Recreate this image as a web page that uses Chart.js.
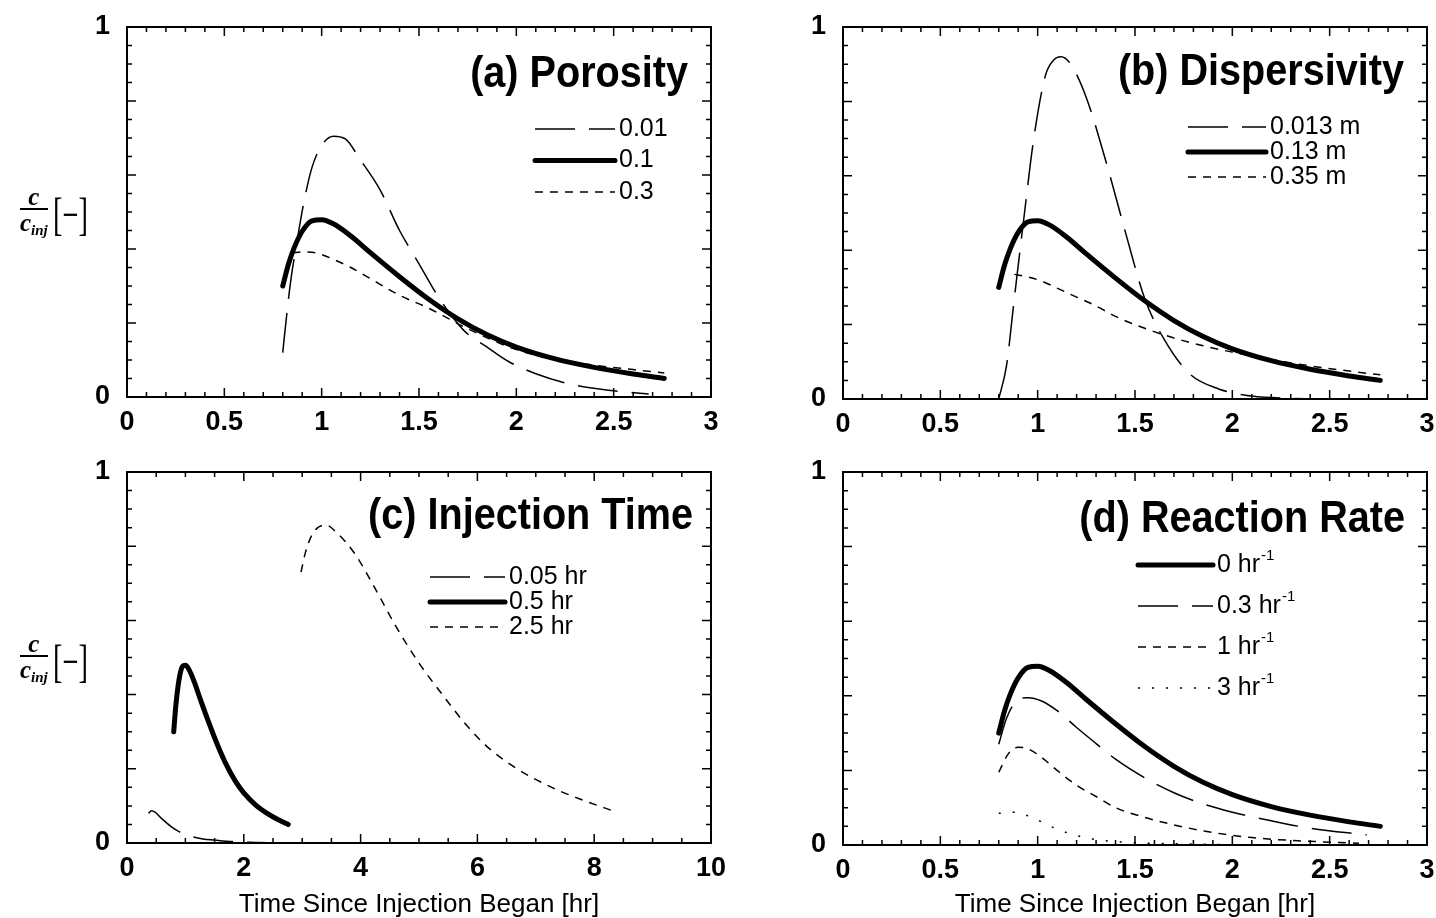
<!DOCTYPE html>
<html>
<head>
<meta charset="utf-8">
<script src="https://cdn.jsdelivr.net/npm/chart.js@4.4.0/dist/chart.umd.min.js"></script>
<style>
  body { margin:0; background:#fff; width:1436px; height:918px; overflow:hidden; position:relative; }
  canvas { position:absolute; }
  .ylab { position:absolute; left:20px; height:50px; display:flex; align-items:center; font-family:'Liberation Serif', serif; color:#000; white-space:nowrap; }
  .frac { display:inline-block; text-align:center; font-style:italic; font-weight:bold; font-size:25px; }
  .frac .num { display:block; border-bottom:2px solid #000; line-height:23px; padding:0 1px; }
  .frac .den { display:block; line-height:25px; }
  .frac sub { font-size:15px; vertical-align:-4px; }
  .br { display:inline-block; font-size:46px; transform:scaleX(0.62); transform-origin:left center; margin-left:5px; }
</style>
</head>
<body>
<canvas id="ca" width="740" height="450" style="left:0;top:0"></canvas>
<canvas id="cb" width="718" height="450" style="left:718px;top:0"></canvas>
<canvas id="cc" width="740" height="468" style="left:0;top:450px"></canvas>
<canvas id="cd" width="718" height="468" style="left:718px;top:450px"></canvas>

<div class="ylab" style="top:189px"><span class="frac"><span class="num">c</span><span class="den">c<sub>inj</sub></span></span><span class="br">[&#8722;]</span></div>
<div class="ylab" style="top:636px"><span class="frac"><span class="num">c</span><span class="den">c<sub>inj</sub></span></span><span class="br">[&#8722;]</span></div>

<script>
const FONT = "'Liberation Sans', Arial, sans-serif";

// base case (thick line) - same run in all four panels
const baseT = [0.80, 0.83, 0.86, 0.90, 0.95, 1.00, 1.06, 1.15, 1.25, 1.40, 1.55, 1.70, 1.85, 2.00, 2.20, 2.40, 2.60, 2.76];
const baseC = [0.30, 0.36, 0.405, 0.448, 0.476, 0.479, 0.468, 0.435, 0.39, 0.325, 0.264, 0.211, 0.168, 0.135, 0.103, 0.080, 0.062, 0.050];

// (a) porosity
const poro001T = [0.80, 0.82, 0.84, 0.87, 0.91, 0.95, 1.00, 1.06, 1.12, 1.20, 1.30, 1.40, 1.50, 1.60, 1.73, 1.85, 1.96, 2.10, 2.30, 2.50, 2.68];
const poro001C = [0.12, 0.22, 0.31, 0.41, 0.53, 0.62, 0.68, 0.705, 0.698, 0.64, 0.56, 0.45, 0.36, 0.27, 0.18, 0.135, 0.096, 0.063, 0.032, 0.017, 0.008];
const poro03T = [0.85, 0.90, 0.95, 1.00, 1.06, 1.15, 1.25, 1.40, 1.55, 1.73, 1.85, 2.00, 2.20, 2.40, 2.60, 2.76];
const poro03C = [0.39, 0.392, 0.391, 0.385, 0.372, 0.35, 0.32, 0.275, 0.24, 0.19, 0.16, 0.128, 0.101, 0.086, 0.074, 0.065];

// (b) dispersivity
const disp0013T = [0.80, 0.84, 0.88, 0.93, 0.98, 1.04, 1.08, 1.12, 1.17, 1.25, 1.35, 1.45, 1.55, 1.65, 1.78, 1.93, 2.10, 2.30, 2.50];
const disp0013C = [0.0, 0.09, 0.27, 0.49, 0.70, 0.87, 0.91, 0.92, 0.90, 0.81, 0.64, 0.45, 0.27, 0.16, 0.068, 0.027, 0.008, 0.002, 0.0];
const disp035T = [0.88, 0.95, 1.02, 1.10, 1.20, 1.30, 1.40, 1.55, 1.70, 1.85, 2.00, 2.20, 2.40, 2.60, 2.76];
const disp035C = [0.335, 0.328, 0.317, 0.298, 0.274, 0.25, 0.222, 0.19, 0.164, 0.143, 0.126, 0.106, 0.089, 0.075, 0.065];

// (c) injection time
const inj005T = [0.37, 0.42, 0.48, 0.60, 0.75, 0.90, 1.05, 1.30, 1.50, 1.80, 2.10, 2.40];
const inj005C = [0.08, 0.087, 0.083, 0.065, 0.045, 0.03, 0.02, 0.011, 0.008, 0.004, 0.002, 0.001];
const inj25T = [2.98, 3.05, 3.15, 3.25, 3.40, 3.60, 3.90, 4.20, 4.60, 5.00, 5.40, 5.80, 6.20, 6.70, 7.30, 7.80, 8.35];
const inj25C = [0.73, 0.78, 0.825, 0.848, 0.857, 0.835, 0.78, 0.70, 0.585, 0.485, 0.40, 0.32, 0.255, 0.198, 0.148, 0.116, 0.085];

// (d) reaction rate
const rate03T = [0.80, 0.84, 0.89, 0.95, 1.02, 1.10, 1.20, 1.30, 1.40, 1.55, 1.70, 1.85, 2.00, 2.20, 2.40, 2.69];
const rate03C = [0.27, 0.34, 0.385, 0.395, 0.386, 0.36, 0.315, 0.272, 0.23, 0.18, 0.14, 0.11, 0.088, 0.065, 0.045, 0.027];
const rate1T = [0.80, 0.85, 0.90, 0.95, 1.02, 1.10, 1.20, 1.30, 1.40, 1.55, 1.70, 1.87, 2.10, 2.35, 2.65];
const rate1C = [0.195, 0.245, 0.262, 0.258, 0.235, 0.20, 0.16, 0.13, 0.10, 0.074, 0.054, 0.036, 0.02, 0.011, 0.005];
const rate3T = [0.80, 0.88, 0.95, 1.02, 1.08, 1.18, 1.28, 1.40, 1.55, 1.75, 2.00, 2.25];
const rate3C = [0.085, 0.088, 0.078, 0.062, 0.047, 0.028, 0.016, 0.009, 0.005, 0.003, 0.001, 0.0];

// tick labels
const xTicks3 = [0, 0.5, 1, 1.5, 2, 2.5, 3];
const xTicks10 = [0, 2, 4, 6, 8, 10];
const yTicks = [0, 1];

const LONG = [40, 14], SHORT = [8, 7], DOT = [2, 12], SOLID = [];

function pts(t, c) { return t.map((x, i) => ({ x: x, y: c[i] })); }
function line(label, t, c, w, dash, sup) {
  return {
    label: label, sup: sup, data: pts(t, c),
    borderColor: '#000', borderWidth: w, borderDash: dash,
    borderCapStyle: w > 3 ? 'round' : 'butt',
    pointRadius: 0, fill: false, cubicInterpolationMode: 'monotone'
  };
}

const deco = {
  id: 'deco',
  afterDraw(chart, args, o) {
    const { ctx, chartArea: a, scales: { x, y } } = chart;
    ctx.save();
    ctx.strokeStyle = '#000';
    ctx.fillStyle = '#000';
    // inward ticks on all four sides
    ctx.lineWidth = 1.5;
    ctx.beginPath();
    const nx = Math.round((x.max - x.min) / o.xMinor);
    for (let i = 0; i <= nx; i++) {
      const px = x.getPixelForValue(x.min + i * o.xMinor);
      const len = i % o.xEvery === 0 ? 9 : 5;
      ctx.moveTo(px, a.bottom); ctx.lineTo(px, a.bottom - len);
      ctx.moveTo(px, a.top); ctx.lineTo(px, a.top + len);
    }
    const ny = Math.round((y.max - y.min) / 0.05);
    for (let i = 0; i <= ny; i++) {
      const py = y.getPixelForValue(y.min + i * 0.05);
      const len = i % 4 === 0 ? 9 : 5;
      ctx.moveTo(a.left, py); ctx.lineTo(a.left + len, py);
      ctx.moveTo(a.right, py); ctx.lineTo(a.right - len, py);
    }
    ctx.stroke();
    ctx.lineWidth = 2;
    ctx.strokeRect(a.left, a.top, a.right - a.left, a.bottom - a.top);

    // panel title (heavy, slightly condensed)
    ctx.save();
    ctx.font = 'bold 44px ' + FONT;
    ctx.textAlign = 'right';
    ctx.textBaseline = 'alphabetic';
    ctx.translate(a.right - o.titleDx, a.top + o.titleDy);
    ctx.scale(0.9, 1);
    ctx.fillText(o.title, 0, 0);
    ctx.restore();

    // legend: line sample then label
    ctx.textAlign = 'left';
    ctx.textBaseline = 'middle';
    chart.data.datasets.forEach((d, i) => {
      const ly = a.top + o.legY + i * o.legDy;
      ctx.lineWidth = d.borderWidth;
      ctx.lineCap = d.borderCapStyle;
      ctx.setLineDash(d.borderDash);
      ctx.beginPath();
      ctx.moveTo(a.left + o.legX0, ly);
      ctx.lineTo(a.left + o.legX1, ly);
      ctx.stroke();
      ctx.setLineDash([]);
      ctx.font = '25px ' + FONT;
      const tx = a.left + o.legX1 + 4;
      ctx.fillText(d.label, tx, ly);
      if (d.sup) {
        const w = ctx.measureText(d.label).width;
        ctx.font = '15px ' + FONT;
        ctx.fillText(d.sup, tx + w + 1, ly - 9);
      }
    });
    ctx.restore();
  }
};

function panel(id, box, xMax, xTicks, xMinor, xEvery, datasets, opts, xTitle) {
  return new Chart(document.getElementById(id), {
    type: 'line',
    data: { datasets: datasets },
    options: {
      responsive: false,
      animation: false,
      layout: { padding: { left: 0, top: box.top, right: box.right, bottom: 0 } },
      plugins: { legend: { display: false }, tooltip: { enabled: false }, deco: Object.assign({ xMinor: xMinor, xEvery: xEvery }, opts) },
      scales: {
        x: {
          type: 'linear', min: 0, max: xMax,
          afterBuildTicks: s => { s.ticks = xTicks.map(v => ({ value: v })); },
          afterFit: s => { s.height = box.xH; s.paddingLeft = 0; s.paddingRight = 0; },
          grid: { display: false }, border: { display: false },
          ticks: { color: '#000', padding: 1, maxRotation: 0, autoSkip: false, callback: v => String(v), font: { family: FONT, size: 27, weight: 'bold' } },
          title: { display: !!xTitle, text: xTitle || '', color: '#000', font: { family: FONT, size: 26 }, padding: { top: 0, bottom: -2 } }
        },
        y: {
          type: 'linear', min: 0, max: 1,
          afterBuildTicks: s => { s.ticks = yTicks.map(v => ({ value: v })); },
          afterFit: s => { s.width = box.yW; s.paddingTop = 0; s.paddingBottom = 0; },
          grid: { display: false }, border: { display: false },
          ticks: { color: '#000', padding: 9, callback: v => String(v), font: { family: FONT, size: 27, weight: 'bold' } }
        }
      }
    },
    plugins: [deco]
  });
}

panel('ca', { top: 27, right: 29, xH: 53, yW: 127 }, 3, xTicks3, 0.1, 5, [
  line('0.01', poro001T, poro001C, 1.5, LONG),
  line('0.1', baseT, baseC, 5, SOLID),
  line('0.3', poro03T, poro03C, 1.5, SHORT)
], { title: '(a) Porosity', titleDx: 23, titleDy: 60, legX0: 408, legX1: 488, legY: 102, legDy: 31.5 });

panel('cb', { top: 27, right: 9, xH: 51, yW: 125 }, 3, xTicks3, 0.1, 5, [
  line('0.013 m', disp0013T, disp0013C, 1.5, LONG),
  line('0.13 m', baseT, baseC, 5, SOLID),
  line('0.35 m', disp035T, disp035C, 1.5, SHORT)
], { title: '(b) Dispersivity', titleDx: 23, titleDy: 58, legX0: 345, legX1: 423, legY: 100, legDy: 25 });

panel('cc', { top: 22, right: 29, xH: 75, yW: 127 }, 10, xTicks10, 0.5, 4, [
  line('0.05 hr', inj005T, inj005C, 1.5, LONG),
  line('0.5 hr', baseT, baseC, 5, SOLID),
  line('2.5 hr', inj25T, inj25C, 1.5, SHORT)
], { title: '(c) Injection Time', titleDx: 18, titleDy: 57, legX0: 303, legX1: 378, legY: 105, legDy: 25 }, 'Time Since Injection Began [hr]');

panel('cd', { top: 22, right: 9, xH: 73, yW: 125 }, 3, xTicks3, 0.1, 5, [
  line('0 hr', baseT, baseC, 5, SOLID, '-1'),
  line('0.3 hr', rate03T, rate03C, 1.5, LONG, '-1'),
  line('1 hr', rate1T, rate1C, 1.5, SHORT, '-1'),
  line('3 hr', rate3T, rate3C, 1.5, DOT, '-1')
], { title: '(d) Reaction Rate', titleDx: 22, titleDy: 60, legX0: 295, legX1: 370, legY: 93, legDy: 41 }, 'Time Since Injection Began [hr]');
</script>
</body>
</html>
